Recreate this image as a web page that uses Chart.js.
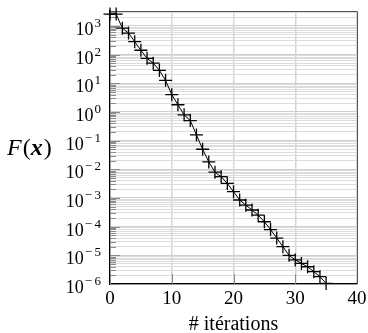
<!DOCTYPE html>
<html>
<head>
<meta charset="utf-8">
<script src="https://cdn.jsdelivr.net/npm/chart.js@4/dist/chart.umd.min.js"></script>
<style>
  html, body { margin: 0; padding: 0; background: #fff; }
  #wrap { width: 368px; height: 333px; }
</style>
</head>
<body>
<div id="wrap"><canvas id="chart" width="368" height="333"></canvas></div>
<script>
// iteration number and objective value F(x)
const iterations = [0, 1, 2, 3, 4, 5, 6, 7, 8, 9, 10, 11, 12, 13, 14, 15, 16, 17,
                    18, 19, 20, 21, 22, 23, 24, 25, 26, 27, 28, 29, 30, 31, 32, 33, 34, 35];
const fValues = [2570, 2570, 832, 562, 282, 141, 74, 50, 28, 12.6, 4.0, 1.78,
                 0.79, 0.50, 0.158, 0.050, 0.018, 0.0079, 0.0055, 0.0032, 0.00166, 0.00085,
                 0.00056, 0.00038, 0.00025, 0.000148, 0.000079, 0.000040, 0.000020, 0.0000100,
                 0.0000069, 0.0000052, 0.0000040, 0.0000027, 0.0000018, 0.00000105];

const xTicks = [0, 10, 20, 30, 40];
const yExponents = [-6, -5, -4, -3, -2, -1, 0, 1, 2, 3];
const yMin = 1e-6;
const yMax = 3300;

const serif = "'Liberation Serif', 'DejaVu Serif', serif";

function isMajor(v) {
    const l = Math.log10(v);
    return Math.abs(l - Math.round(l)) < 1e-9;
}

// box, inside ticks, y labels with exponents and the F(x) label
const decorPlugin = {
    id: 'decor',
    beforeDatasetsDraw(chart) {
        const ctx = chart.ctx;
        const a = chart.chartArea;
        const y = chart.scales.y;
        const x = chart.scales.x;
        ctx.save();
        ctx.strokeStyle = '#8a8a8a';
        ctx.lineWidth = 1;
        y.ticks.forEach(t => {
            const py = Math.round(y.getPixelForValue(t.value)) + 0.5;
            const len = isMajor(t.value) ? 10 : 6;
            ctx.beginPath();
            ctx.moveTo(a.left, py);
            ctx.lineTo(a.left + len, py);
            ctx.stroke();
        });
        xTicks.forEach(v => {
            const px = Math.round(x.getPixelForValue(v)) + 0.5;
            ctx.beginPath();
            ctx.moveTo(px, a.bottom);
            ctx.lineTo(px, a.bottom - 10);
            ctx.stroke();
        });
        ctx.strokeStyle = '#555';
        ctx.beginPath();
        ctx.moveTo(a.left, a.top + 0.5);
        ctx.lineTo(a.right + 0.5, a.top + 0.5);
        ctx.lineTo(a.right + 0.5, a.bottom);
        ctx.stroke();
        ctx.restore();
    },
    afterDraw(chart) {
        const ctx = chart.ctx;
        const y = chart.scales.y;
        ctx.save();
        ctx.fillStyle = '#000';
        ctx.textAlign = 'left';
        ctx.textBaseline = 'alphabetic';
        const right = 101;
        yExponents.forEach(e => {
            const py = y.getPixelForValue(Math.pow(10, e));
            const digit = String(Math.abs(e));
            ctx.font = '13px ' + serif;
            const wDigit = ctx.measureText(digit).width;
            const wMinus = e < 0 ? ctx.measureText('\u2212').width + 2.5 : 0;
            ctx.font = '18px ' + serif;
            const wBase = ctx.measureText('10').width;
            const start = right - wDigit - wMinus - wBase - 1;
            ctx.fillText('10', start, py + 9);
            ctx.font = '13px ' + serif;
            if (e < 0) ctx.fillText('\u2212', start + wBase + 1, py + 1);
            ctx.fillText(digit, start + wBase + 1 + wMinus, py + 1);
        });

        // F(x)
        let px = 7;
        const base = 155;
        ctx.font = 'italic 24px ' + serif;
        ctx.fillText('F', px, base);
        px += ctx.measureText('F').width + 1;
        ctx.font = '24px ' + serif;
        ctx.fillText('(', px, base);
        px += ctx.measureText('(').width;
        ctx.font = 'italic bold 24px ' + serif;
        ctx.fillText('x', px, base);
        px += ctx.measureText('x').width + 1;
        ctx.font = '24px ' + serif;
        ctx.fillText(')', px, base);
        ctx.restore();
    }
};

new Chart(document.getElementById('chart'), {
    type: 'line',
    data: {
        labels: iterations,
        datasets: [{
            data: iterations.map((it, i) => ({ x: it, y: fValues[i] })),
            borderColor: '#000',
            borderWidth: 1,
            backgroundColor: '#000',
            pointStyle: 'cross',
            pointRadius: 6.5,
            pointBorderWidth: 1.3,
            pointBorderColor: '#000',
            fill: false,
            tension: 0,
            clip: false
        }]
    },
    options: {
        responsive: false,
        animation: false,
        layout: { padding: { left: 110, top: 11, right: 11, bottom: -2 } },
        plugins: {
            legend: { display: false },
            tooltip: { enabled: false }
        },
        scales: {
            x: {
                type: 'linear',
                min: 0,
                max: 40,
                afterBuildTicks: scale => {
                    scale.ticks = xTicks.map(v => ({ value: v }));
                },
                afterFit: scale => {
                    scale.paddingLeft = 0;
                    scale.paddingRight = 0;
                },
                grid: {
                    drawTicks: false,
                    color: '#d4d4d4',
                    lineWidth: 1.5
                },
                border: { color: '#000', width: 1.3 },
                ticks: {
                    color: '#000',
                    padding: 6,
                    font: { family: serif, size: 19, lineHeight: 1.0 }
                },
                title: {
                    display: true,
                    text: '# itérations',
                    color: '#000',
                    padding: { top: 0, bottom: 0 },
                    font: { family: serif, size: 20, lineHeight: 1.0 }
                }
            },
            y: {
                type: 'logarithmic',
                min: yMin,
                max: yMax,
                afterBuildTicks: scale => {
                    const t = [];
                    yExponents.forEach(e => {
                        for (let m = 1; m <= 9; m++) {
                            const v = m * Math.pow(10, e);
                            if (v >= yMin * 0.999 && v <= yMax) t.push({ value: v });
                        }
                    });
                    scale.ticks = t;
                },
                grid: {
                    drawTicks: false,
                    color: c => (c.tick && isMajor(c.tick.value)) ? '#cfcfcf' : '#dcdcdc',
                    lineWidth: 1
                },
                border: { color: '#000', width: 1.3 },
                ticks: { display: false }
            }
        }
    },
    plugins: [decorPlugin]
});
</script>
</body>
</html>
